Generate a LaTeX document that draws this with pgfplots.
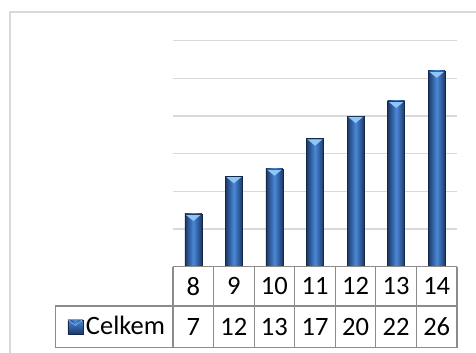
\documentclass[border=0pt]{standalone}
\usepackage{fontspec}
\setmainfont{Carlito}
\usepackage{pgfplots}
\usepackage{pgfplotstable}
\pgfplotsset{compat=1.18}
\definecolor{gridgrey}{HTML}{D9D9D9}
\definecolor{tablegrey}{HTML}{8C8C8C}
\definecolor{bardark}{HTML}{1B3868}
\definecolor{barmid}{HTML}{4A88D8}
\definecolor{bartop}{HTML}{8FC6F6}
\pgfdeclareplotmark{bartri}{%
  \pgfpathmoveto{\pgfqpoint{-7.5bp}{-0.8bp}}%
  \pgfpathlineto{\pgfqpoint{7.5bp}{-0.8bp}}%
  \pgfpathlineto{\pgfqpoint{0bp}{-7bp}}%
  \pgfpathclose
  \pgfusepath{fill}}
\pgfplotstableread{
x label val
0 8 7
1 9 12
2 10 13
3 11 17
4 12 20
5 13 22
6 14 26
}\datatable
\newcommand\tabfont{\fontsize{26.5bp}{31bp}\selectfont}
\begin{document}
\tabfont
\begin{tikzpicture}
\useasboundingbox (0,0) rectangle (476bp,353bp);
\draw[gridgrey, line width=1.5bp] (10bp,0bp) -- (10bp,341bp) -- (476bp,341bp);
\begin{axis}[
  at={(173bp,86.3bp)}, anchor=south west,
  scale only axis, width=284bp, height=226bp,
  xmin=-0.5, xmax=6.5, ymin=0, ymax=30,
  clip=false,
  axis line style={draw=none},
  tick style={draw=none},
  ytick={5,10,...,30}, yticklabels={},
  ymajorgrids, grid style={gridgrey, line width=1.3bp},
  xtick={0,...,6}, xticklabels={8,9,10,11,12,13,14},
  xticklabel style={anchor=center, yshift=-19.6bp, font=\tabfont},
  /pgf/number format/assume math mode=true,
  legend style={at={(-0.372,-0.2664)}, anchor=west, draw=none, fill=none, inner sep=0pt,
    font=\tabfont, nodes={inner sep=3bp}},
  legend image code/.code={
    \shade[top color=barmid, bottom color=bardark] (0bp,-7bp) rectangle (15bp,7bp);
    \fill[bartop] (0.5bp,7bp) -- (14.5bp,7bp) -- (7.5bp,1.5bp) -- cycle;
  },
  barstyle/.style={ybar, bar width=17bp, bar shift=0pt, draw=bardark!70!black, line width=0.4bp,
    left color=bardark, right color=bardark, middle color=barmid},
]
\addplot[barstyle, restrict x to domain=0:0] table[x=x, y=val] {\datatable};
\addlegendentry{Celkem}
\pgfplotsinvokeforeach{1,2,3,4,5,6}{
  \addplot[barstyle, forget plot, restrict x to domain=#1:#1] table[x=x, y=val] {\datatable};
}
\addplot[only marks, mark=bartri, forget plot,
  mark options={fill=bartop, draw=none}]
  table[x=x, y=val] {\datatable};
\addplot[draw=none, mark=none, forget plot, nodes near coords, point meta=explicit symbolic,
  nodes near coords style={anchor=center, font=\tabfont}]
  table[x=x, y expr=-8.0, meta=val] {\datatable};
\draw[tablegrey, line width=1.2bp]
  (axis cs:-0.5,0) -- (axis cs:6.5,0)
  (axis cs:-3.406,-5.22) -- (axis cs:6.5,-5.22)
  (axis cs:-3.406,-10.75) -- (axis cs:6.5,-10.75)
  (axis cs:-3.406,-5.22) -- (axis cs:-3.406,-10.75)
  (axis cs:-0.5,0) -- (axis cs:-0.5,-10.75)
  (axis cs:0.5,0) -- (axis cs:0.5,-10.75)
  (axis cs:1.5,0) -- (axis cs:1.5,-10.75)
  (axis cs:2.5,0) -- (axis cs:2.5,-10.75)
  (axis cs:3.5,0) -- (axis cs:3.5,-10.75)
  (axis cs:4.5,0) -- (axis cs:4.5,-10.75)
  (axis cs:5.5,0) -- (axis cs:5.5,-10.75)
  (axis cs:6.5,0) -- (axis cs:6.5,-10.75);
\end{axis}
\end{tikzpicture}
\end{document}
